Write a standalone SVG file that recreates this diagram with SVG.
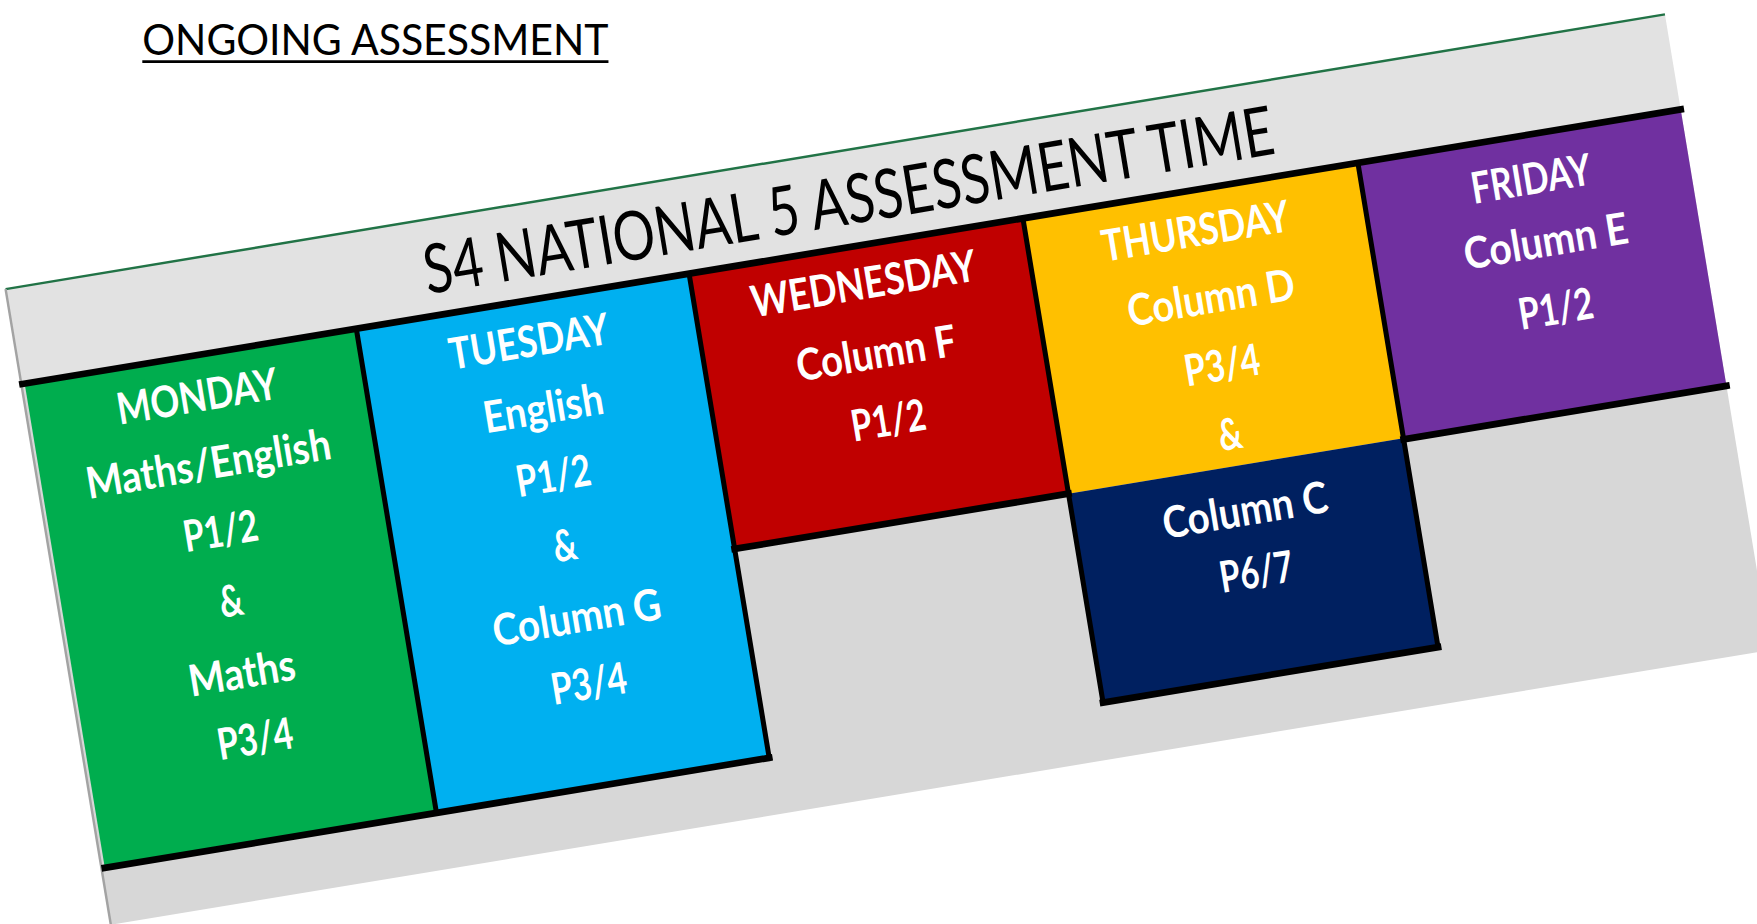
<svg xmlns="http://www.w3.org/2000/svg" width="1757" height="924" viewBox="0 0 1757 924">
<style>
.t{font-family:Lato,"Open Sans","Liberation Sans",sans-serif;font-weight:700;fill:#ffffff;font-size:39px;text-anchor:middle}
.hd{font-family:Lato,"Open Sans","Liberation Sans",sans-serif;font-weight:400;fill:#000000}
.bl{stroke:#000000;fill:none;stroke-linecap:square}
</style>
<rect width="1757" height="924" fill="#ffffff"/>
<g transform="scale(1.12054)">
  <g id="heading">
    <text class="hd" x="127" y="49" font-size="37.5" textLength="416" lengthAdjust="spacingAndGlyphs">ONGOING ASSESSMENT</text>
    <line x1="127" y1="55" x2="543" y2="55" stroke="#000000" stroke-width="2.6"/>
  </g>
  <g id="board" transform="translate(5,258) rotate(-9.4)">
    <g id="panel">
      <rect x="0" y="0" width="1501" height="86" fill="#e2e2e2"/>
      <rect x="0" y="86" width="1501" height="489" fill="#d7d7d7"/>
      <line x1="0" y1="0" x2="1501" y2="0" stroke="#217346" stroke-width="2.2"/>
      <line x1="0" y1="0" x2="0" y2="575" stroke="#a3a3a3" stroke-width="2.2"/>
    </g>
    <g id="title">
      <text class="hd" x="755" y="66" font-size="61" text-anchor="middle" textLength="768" lengthAdjust="spacingAndGlyphs">S4 NATIONAL 5 ASSESSMENT TIME</text>
    </g>
    <g id="monday">
      <rect x="3" y="86" width="300" height="438" fill="#00ad4e"/>
      <text class="t" x="153" y="136" textLength="145" lengthAdjust="spacingAndGlyphs">MONDAY</text>
      <text class="t" x="153" y="197" textLength="221" lengthAdjust="spacingAndGlyphs">Maths/English</text>
      <text class="t" x="154" y="258" textLength="67" lengthAdjust="spacingAndGlyphs">P1/2</text>
      <text class="t" x="153" y="321" textLength="21" lengthAdjust="spacingAndGlyphs">&amp;</text>
      <text class="t" x="152" y="386" textLength="96" lengthAdjust="spacingAndGlyphs">Maths</text>
      <text class="t" x="154" y="446" textLength="68" lengthAdjust="spacingAndGlyphs">P3/4</text>
    </g>
    <g id="tuesday">
      <rect x="303" y="86" width="301" height="438" fill="#00b0f0"/>
      <text class="t" x="453" y="136" textLength="144" lengthAdjust="spacingAndGlyphs">TUESDAY</text>
      <text class="t" x="456" y="197" textLength="108" lengthAdjust="spacingAndGlyphs">English</text>
      <text class="t" x="455" y="258" textLength="67" lengthAdjust="spacingAndGlyphs">P1/2</text>
      <text class="t" x="455" y="321" textLength="21" lengthAdjust="spacingAndGlyphs">&amp;</text>
      <text class="t" x="455" y="386" textLength="152" lengthAdjust="spacingAndGlyphs">Column G</text>
      <text class="t" x="456" y="446" textLength="68" lengthAdjust="spacingAndGlyphs">P3/4</text>
    </g>
    <g id="wednesday">
      <rect x="604" y="86" width="302" height="249" fill="#c00000"/>
      <text class="t" x="756" y="134" textLength="203" lengthAdjust="spacingAndGlyphs">WEDNESDAY</text>
      <text class="t" x="757" y="197" textLength="144" lengthAdjust="spacingAndGlyphs">Column F</text>
      <text class="t" x="758" y="258" textLength="67" lengthAdjust="spacingAndGlyphs">P1/2</text>
    </g>
    <g id="thursday">
      <rect x="906" y="86" width="303" height="249" fill="#ffc000"/>
      <text class="t" x="1056" y="136" textLength="169" lengthAdjust="spacingAndGlyphs">THURSDAY</text>
      <text class="t" x="1060" y="197" textLength="151" lengthAdjust="spacingAndGlyphs">Column D</text>
      <text class="t" x="1060" y="258" textLength="68" lengthAdjust="spacingAndGlyphs">P3/4</text>
      <text class="t" x="1057" y="320" textLength="21" lengthAdjust="spacingAndGlyphs">&amp;</text>
    </g>
    <g id="column-c">
      <rect x="906" y="335" width="303" height="189" fill="#002060"/>
      <text class="t" x="1059" y="389" textLength="149" lengthAdjust="spacingAndGlyphs">Column C</text>
      <text class="t" x="1060" y="445" textLength="66" lengthAdjust="spacingAndGlyphs">P6/7</text>
    </g>
    <g id="friday">
      <rect x="1209" y="86" width="292" height="250" fill="#7030a0"/>
      <text class="t" x="1359" y="139" textLength="108" lengthAdjust="spacingAndGlyphs">FRIDAY</text>
      <text class="t" x="1363" y="196" textLength="148" lengthAdjust="spacingAndGlyphs">Column E</text>
      <text class="t" x="1362" y="257" textLength="67" lengthAdjust="spacingAndGlyphs">P1/2</text>
    </g>
    <g id="borders">
      <path class="bl" stroke-width="6" d="M1,86 H1501"/>
      <path class="bl" stroke-width="4.5" d="M303,86 V524 M604,86 V524 M906,86 V524 M1209,86 V524"/>
      <path class="bl" stroke-width="6" d="M3,524 H604 M604,335 H906 M1209,336 H1501 M906,524 H1209"/>
    </g>
    <g id="connectors"/>
  </g>
</g>
</svg>
